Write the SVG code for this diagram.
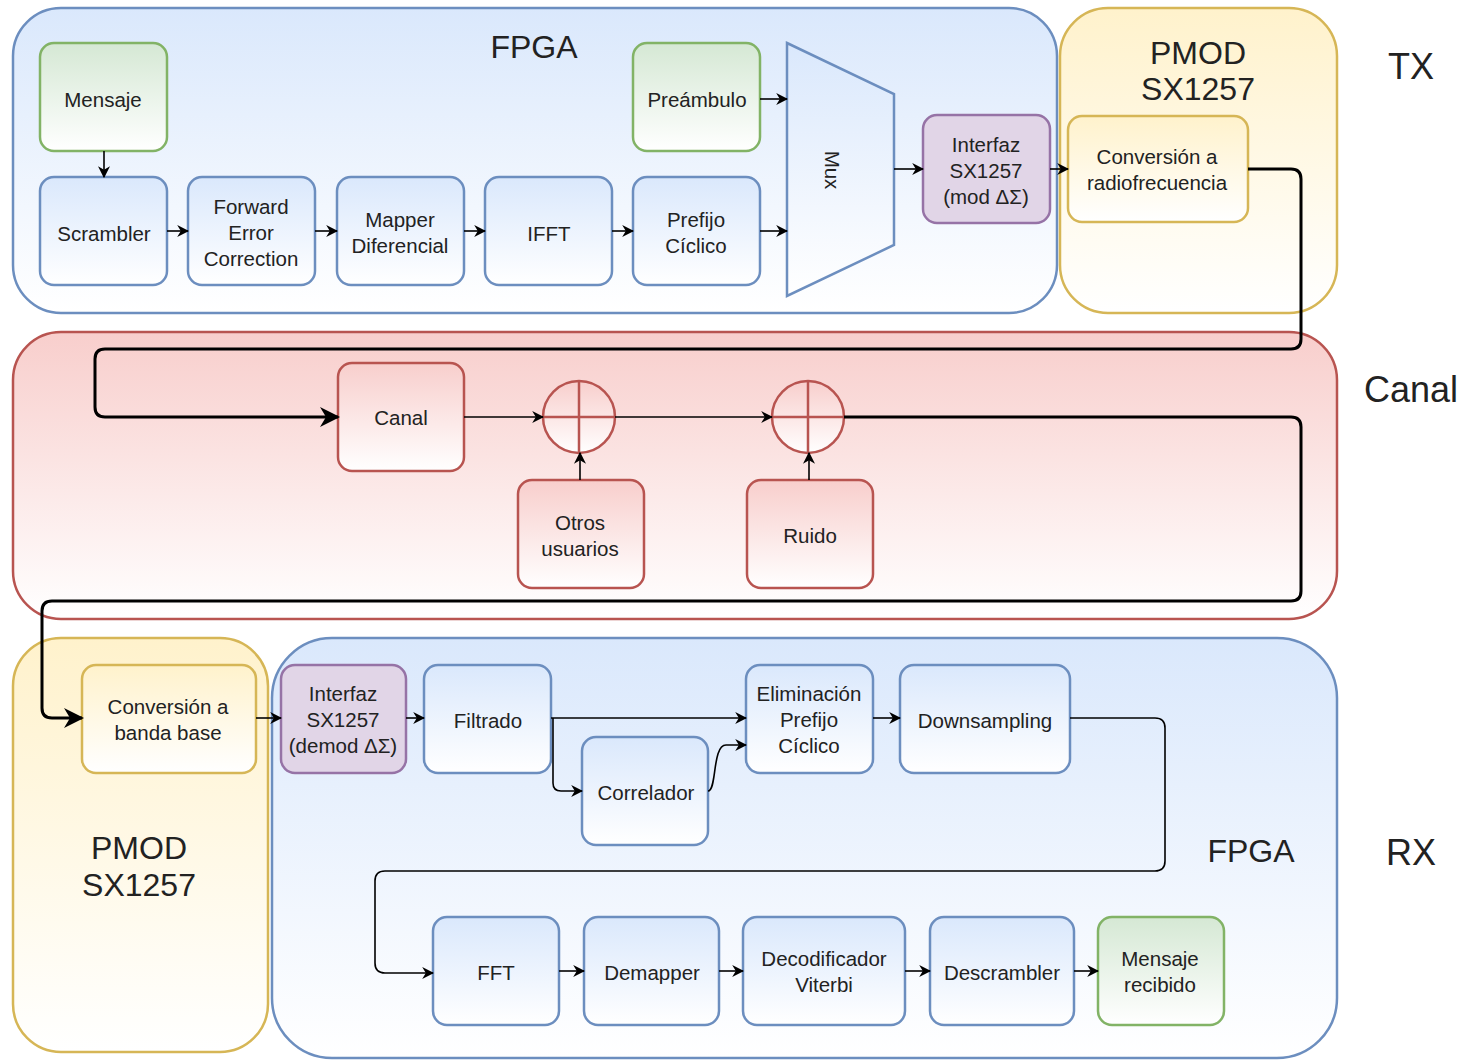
<svg xmlns="http://www.w3.org/2000/svg" width="1466" height="1062" viewBox="0 0 1466 1062">
  <defs>
    <linearGradient id="gBlue" x1="0" y1="0" x2="0" y2="1"><stop offset="0" stop-color="#dae8fc"/><stop offset="1" stop-color="#ffffff"/></linearGradient>
    <linearGradient id="gGreen" x1="0" y1="0" x2="0" y2="1"><stop offset="0" stop-color="#d5e8d4"/><stop offset="1" stop-color="#ffffff"/></linearGradient>
    <linearGradient id="gRed" x1="0" y1="0" x2="0" y2="1"><stop offset="0" stop-color="#f8cecc"/><stop offset="1" stop-color="#ffffff"/></linearGradient>
    <linearGradient id="gYellow" x1="0" y1="0" x2="0" y2="1"><stop offset="0" stop-color="#fff2cc"/><stop offset="1" stop-color="#ffffff"/></linearGradient>
    <marker id="arr" viewBox="0 0 10 10" refX="9" refY="5" markerWidth="12" markerHeight="12" markerUnits="userSpaceOnUse" orient="auto">
      <path d="M0,0 L10,5 L0,10 L3,5 Z" fill="#000"/>
    </marker>
    <marker id="arrBig" viewBox="0 0 10 10" refX="9" refY="5" markerWidth="20" markerHeight="20" markerUnits="userSpaceOnUse" orient="auto">
      <path d="M0,0 L10,5 L0,10 L3,5 Z" fill="#000"/>
    </marker>
  </defs>
  <style>
    text { font-family: "Liberation Sans", Arial, sans-serif; fill: #222; text-anchor: middle; }
    .lbl { font-size: 20.5px; }
    .big { font-size: 32px; }
    .side { font-size: 36px; }
    .blue { fill: url(#gBlue); stroke: #6c8ebf; stroke-width: 2.5; }
    .green { fill: url(#gGreen); stroke: #82b366; stroke-width: 2.5; }
    .red { fill: url(#gRed); stroke: #b85450; stroke-width: 2.5; }
    .yellow { fill: url(#gYellow); stroke: #d6b656; stroke-width: 2.5; }
    .purple { fill: #e1d5e7; stroke: #9673a6; stroke-width: 2.5; }
    .edge { fill: none; stroke: #000; stroke-width: 1.6; marker-end: url(#arr); }
    .thick { fill: none; stroke: #000; stroke-width: 3; marker-end: url(#arrBig); }
  </style>

  <!-- containers -->
  <g id="tx-fpga"><rect class="blue" x="13" y="8" width="1044" height="305" rx="48"/><text class="big" x="534" y="58">FPGA</text></g>
  <g id="tx-pmod"><rect class="yellow" x="1060" y="8" width="277" height="305" rx="48"/><text class="big" x="1198" y="64">PMOD</text><text class="big" x="1198" y="100">SX1257</text></g>
  <g id="canal-zone"><rect class="red" x="13" y="332" width="1324" height="287" rx="48"/></g>
  <g id="rx-pmod"><rect class="yellow" x="13" y="638" width="255" height="414" rx="48"/><text class="big" x="139" y="859">PMOD</text><text class="big" x="139" y="896">SX1257</text></g>
  <g id="rx-fpga"><rect class="blue" x="272" y="638" width="1065" height="420" rx="60"/><text class="big" x="1251" y="862">FPGA</text></g>

  <text class="side" x="1411" y="79">TX</text>
  <text class="side" x="1411" y="402">Canal</text>
  <text class="side" x="1411" y="865">RX</text>

  <!-- TX chain -->
  <g id="mensaje"><rect class="green" x="40" y="43" width="127" height="108" rx="14"/><text class="lbl" x="103" y="107">Mensaje</text></g>
  <g id="scrambler"><rect class="blue" x="40" y="177" width="127" height="108" rx="14"/><text class="lbl" x="104" y="241">Scrambler</text></g>
  <g id="fec"><rect class="blue" x="188" y="177" width="127" height="108" rx="14"/><text class="lbl" x="251" y="214">Forward</text><text class="lbl" x="251" y="240">Error</text><text class="lbl" x="251" y="266">Correction</text></g>
  <g id="mapper"><rect class="blue" x="337" y="177" width="127" height="108" rx="14"/><text class="lbl" x="400" y="227">Mapper</text><text class="lbl" x="400" y="253">Diferencial</text></g>
  <g id="ifft"><rect class="blue" x="485" y="177" width="127" height="108" rx="14"/><text class="lbl" x="549" y="241">IFFT</text></g>
  <g id="prefijo"><rect class="blue" x="633" y="177" width="127" height="108" rx="14"/><text class="lbl" x="696" y="227">Prefijo</text><text class="lbl" x="696" y="253">Cíclico</text></g>
  <g id="preambulo"><rect class="green" x="633" y="43" width="127" height="108" rx="14"/><text class="lbl" x="697" y="107">Preámbulo</text></g>
  <g id="mux"><polygon class="blue" points="787,43 894,94 894,245 787,296"/><text class="lbl" transform="translate(832,170) rotate(90)" y="7">Mux</text></g>
  <g id="interfaz-tx"><rect class="purple" x="923" y="115" width="127" height="108" rx="14"/><text class="lbl" x="986" y="152">Interfaz</text><text class="lbl" x="986" y="178">SX1257</text><text class="lbl" x="986" y="204">(mod ΔΣ)</text></g>
  <g id="conv-rf"><rect class="yellow" x="1068" y="116" width="180" height="106" rx="14"/><text class="lbl" x="1157" y="164">Conversión a</text><text class="lbl" x="1157" y="190">radiofrecuencia</text></g>

  <!-- channel -->
  <g id="canal"><rect class="red" x="338" y="363" width="126" height="108" rx="14"/><text class="lbl" x="401" y="425">Canal</text></g>
  <g id="sum1"><circle class="red" cx="579" cy="417" r="36"/><path d="M543,417 H615 M579,381 V453" stroke="#b85450" stroke-width="2.5"/></g>
  <g id="sum2"><circle class="red" cx="808" cy="417" r="36"/><path d="M772,417 H844 M808,381 V453" stroke="#b85450" stroke-width="2.5"/></g>
  <g id="otros"><rect class="red" x="518" y="480" width="126" height="108" rx="14"/><text class="lbl" x="580" y="530">Otros</text><text class="lbl" x="580" y="556">usuarios</text></g>
  <g id="ruido"><rect class="red" x="747" y="480" width="126" height="108" rx="14"/><text class="lbl" x="810" y="543">Ruido</text></g>

  <!-- RX chain -->
  <g id="conv-bb"><rect class="yellow" x="82" y="665" width="174" height="108" rx="14"/><text class="lbl" x="168" y="714">Conversión a</text><text class="lbl" x="168" y="740">banda base</text></g>
  <g id="interfaz-rx"><rect class="purple" x="281" y="665" width="125" height="108" rx="14"/><text class="lbl" x="343" y="701">Interfaz</text><text class="lbl" x="343" y="727">SX1257</text><text class="lbl" x="343" y="753">(demod ΔΣ)</text></g>
  <g id="filtrado"><rect class="blue" x="424" y="665" width="127" height="108" rx="14"/><text class="lbl" x="488" y="728">Filtrado</text></g>
  <g id="correlador"><rect class="blue" x="582" y="737" width="126" height="108" rx="14"/><text class="lbl" x="646" y="800">Correlador</text></g>
  <g id="eliminacion"><rect class="blue" x="746" y="665" width="127" height="108" rx="14"/><text class="lbl" x="809" y="701">Eliminación</text><text class="lbl" x="809" y="727">Prefijo</text><text class="lbl" x="809" y="753">Cíclico</text></g>
  <g id="downsampling"><rect class="blue" x="900" y="665" width="170" height="108" rx="14"/><text class="lbl" x="985" y="728">Downsampling</text></g>
  <g id="fft"><rect class="blue" x="433" y="917" width="126" height="108" rx="14"/><text class="lbl" x="496" y="980">FFT</text></g>
  <g id="demapper"><rect class="blue" x="584" y="917" width="135" height="108" rx="14"/><text class="lbl" x="652" y="980">Demapper</text></g>
  <g id="viterbi"><rect class="blue" x="743" y="917" width="162" height="108" rx="14"/><text class="lbl" x="824" y="966">Decodificador</text><text class="lbl" x="824" y="992">Viterbi</text></g>
  <g id="descrambler"><rect class="blue" x="930" y="917" width="144" height="108" rx="14"/><text class="lbl" x="1002" y="980">Descrambler</text></g>
  <g id="mensaje-rx"><rect class="green" x="1098" y="917" width="126" height="108" rx="14"/><text class="lbl" x="1160" y="966">Mensaje</text><text class="lbl" x="1160" y="992">recibido</text></g>

  <!-- connectors -->
  <g id="connectors">
    <path class="edge" d="M104,151 V177"/>
    <path class="edge" d="M167,231 H188"/>
    <path class="edge" d="M315,231 H337"/>
    <path class="edge" d="M464,231 H485"/>
    <path class="edge" d="M612,231 H633"/>
    <path class="edge" d="M760,231 H787"/>
    <path class="edge" d="M760,99 H787"/>
    <path class="edge" d="M894,169 H923"/>
    <path class="edge" d="M1050,169 H1068"/>
    <path class="thick" d="M1248,169 H1291 Q1301,169 1301,179 V339 Q1301,349 1291,349 H105 Q95,349 95,359 V407 Q95,417 105,417 H338"/>
    <path class="edge" d="M464,417 H543"/>
    <path class="edge" d="M615,417 H772"/>
    <path class="edge" d="M580,480 V453"/>
    <path class="edge" d="M809,480 V453"/>
    <path class="thick" d="M844,417 H1291 Q1301,417 1301,427 V591 Q1301,601 1291,601 H52 Q42,601 42,611 V708 Q42,718 52,718 H82"/>
    <path class="edge" d="M256,718 H281"/>
    <path class="edge" d="M406,718 H424"/>
    <path class="edge" d="M551,718 H746"/>
    <path class="edge" d="M553,718 V783 Q553,791 561,791 H582"/>
    <path class="edge" d="M708,791 C717,791 712,745 726,745 H746"/>
    <path class="edge" d="M873,718 H900"/>
    <path class="edge" d="M1070,718 H1155 Q1165,718 1165,728 V861 Q1165,871 1155,871 H385 Q375,871 375,881 V963 Q375,973 385,973 H433"/>
    <path class="edge" d="M559,971 H584"/>
    <path class="edge" d="M719,971 H743"/>
    <path class="edge" d="M905,971 H930"/>
    <path class="edge" d="M1074,971 H1098"/>
  </g>
</svg>
